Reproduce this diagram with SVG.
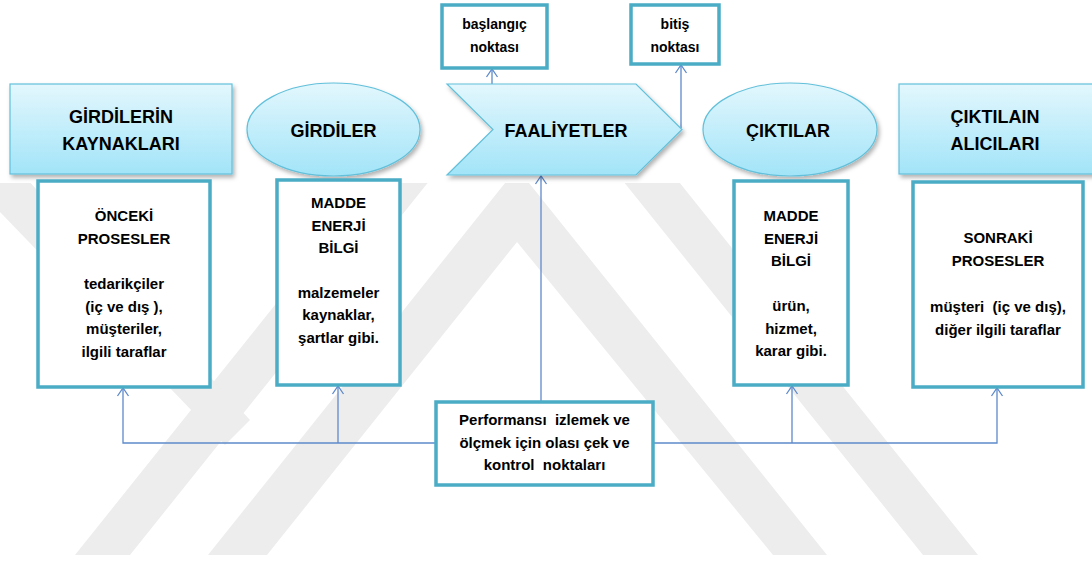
<svg xmlns="http://www.w3.org/2000/svg" width="1092" height="561" viewBox="0 0 1092 561">
  <style>
    .hdr { font-family: "Liberation Sans", Arial, sans-serif; font-weight: bold; font-size: 18px; text-anchor: middle; fill: #000; }
    .txt { font-family: "Liberation Sans", Arial, sans-serif; font-weight: bold; font-size: 15px; text-anchor: middle; fill: #000; white-space: pre; }
    .small { font-family: "Liberation Sans", Arial, sans-serif; font-weight: bold; font-size: 14px; text-anchor: middle; fill: #000; }
    .head-shape { fill: url(#blueFill); stroke: #62C0DA; stroke-width: 1.2; filter: url(#shadow); }
    .box { fill: #fff; stroke: #4BACC6; stroke-width: 3.5; }
    .conn { fill: none; stroke: #5E8ACB; stroke-width: 1.3; }
    .wm { fill: #ededed; }
  </style>
  <defs>
    <linearGradient id="blueFill" x1="0" y1="0" x2="0" y2="1">
      <stop offset="0" stop-color="#E3F7FD"/>
      <stop offset="1" stop-color="#A2E4F8"/>
    </linearGradient>
    <filter id="shadow" x="-10%" y="-10%" width="130%" height="140%">
      <feDropShadow dx="2" dy="3" stdDeviation="2" flood-color="#000" flood-opacity="0.3"/>
    </filter>
    <clipPath id="wmArea">
      <rect x="0" y="183" width="1092" height="372"/>
    </clipPath>
    <marker id="openArrow" markerUnits="userSpaceOnUse" viewBox="-10 -8 12 16" refX="0" refY="0" markerWidth="12" markerHeight="16" orient="auto">
      <path d="M-8,-5.5 L0,0 L-8,5.5" fill="none" stroke="#5E8ACB" stroke-width="1.3"/>
    </marker>
  </defs>

  <rect width="1092" height="561" fill="#fff"/>

  <!-- background watermark bands -->
  <g id="watermark" clip-path="url(#wmArea)">
    <polygon class="wm" points="75,555 526,-9 978,555 923,555 526,60 130,555"/>
    <polygon class="wm" points="208,555 517,168 827,555 773,555 517,242 267,555"/>
    <polygon class="wm" points="-60,150 0,150 250,420 225,445"/>
  </g>

  <!-- connectors -->
  <g id="connectors">
    <line class="conn" x1="492" y1="128" x2="492" y2="69" marker-end="url(#openArrow)"/>
    <line class="conn" x1="681" y1="128" x2="681" y2="65" marker-end="url(#openArrow)"/>
    <line class="conn" x1="541" y1="402" x2="541" y2="176" marker-end="url(#openArrow)"/>
    <polyline class="conn" points="436,443 123,443 123,388" marker-end="url(#openArrow)"/>
    <line class="conn" x1="338" y1="443" x2="338" y2="386" marker-end="url(#openArrow)"/>
    <polyline class="conn" points="653,443 997,443 997,388" marker-end="url(#openArrow)"/>
    <line class="conn" x1="792" y1="443" x2="792" y2="386" marker-end="url(#openArrow)"/>
  </g>

  <!-- top row -->
  <g id="girdilerin-kaynaklari">
    <rect class="head-shape" x="10" y="84" width="222" height="90"/>
    <text class="hdr" x="121" y="123">GİRDİLERİN</text>
    <text class="hdr" x="121" y="150">KAYNAKLARI</text>
  </g>
  <g id="girdiler">
    <ellipse class="head-shape" cx="333.5" cy="129.5" rx="86.5" ry="46.5"/>
    <text class="hdr" x="333.5" y="137">GİRDİLER</text>
  </g>
  <g id="faaliyetler">
    <polygon class="head-shape" points="447,84 636,84 682,129.5 636,175 447,175 493,129.5"/>
    <text class="hdr" x="566" y="137">FAALİYETLER</text>
  </g>
  <g id="ciktilar">
    <ellipse class="head-shape" cx="790" cy="129.5" rx="87" ry="46.5"/>
    <text class="hdr" x="788" y="137">ÇIKTILAR</text>
  </g>
  <g id="ciktilain-alicilari">
    <rect class="head-shape" x="899" y="84" width="196" height="90"/>
    <text class="hdr" x="995" y="123">ÇIKTILAIN</text>
    <text class="hdr" x="995" y="150">ALICILARI</text>
  </g>

  <!-- start / end points -->
  <g id="baslangic-noktasi">
    <rect class="box" x="442" y="5" width="105" height="63"/>
    <text class="small" x="494.5" y="29">başlangıç</text>
    <text class="small" x="494.5" y="52">noktası</text>
  </g>
  <g id="bitis-noktasi">
    <rect class="box" x="631" y="5" width="88" height="59"/>
    <text class="small" x="675" y="29">bitiş</text>
    <text class="small" x="675" y="52">noktası</text>
  </g>

  <!-- detail boxes -->
  <g id="onceki-prosesler">
    <rect class="box" x="38" y="181" width="172" height="206"/>
    <text class="txt" x="124" y="221">ÖNCEKİ</text>
    <text class="txt" x="124" y="243.5">PROSESLER</text>
    <text class="txt" x="124" y="289">tedarikçiler</text>
    <text class="txt" x="124" y="311.5">(iç ve dış ),</text>
    <text class="txt" x="124" y="334">müşteriler,</text>
    <text class="txt" x="124" y="356.5">ilgili taraflar</text>
  </g>
  <g id="girdi-icerik">
    <rect class="box" x="277" y="180" width="123" height="205"/>
    <text class="txt" x="338.5" y="208">MADDE</text>
    <text class="txt" x="338.5" y="231">ENERJİ</text>
    <text class="txt" x="338.5" y="253">BİLGİ</text>
    <text class="txt" x="338.5" y="298">malzemeler</text>
    <text class="txt" x="338.5" y="320">kaynaklar,</text>
    <text class="txt" x="338.5" y="343">şartlar gibi.</text>
  </g>
  <g id="cikti-icerik">
    <rect class="box" x="734" y="181" width="114" height="204"/>
    <text class="txt" x="791" y="221">MADDE</text>
    <text class="txt" x="791" y="243.5">ENERJİ</text>
    <text class="txt" x="791" y="266">BİLGİ</text>
    <text class="txt" x="791" y="311">ürün,</text>
    <text class="txt" x="791" y="333.5">hizmet,</text>
    <text class="txt" x="791" y="356">karar gibi.</text>
  </g>
  <g id="sonraki-prosesler">
    <rect class="box" x="913" y="182" width="170" height="205"/>
    <text class="txt" x="998" y="243">SONRAKİ</text>
    <text class="txt" x="998" y="266">PROSESLER</text>
    <text class="txt" x="998" y="312">müşteri  (iç ve dış),</text>
    <text class="txt" x="998" y="335">diğer ilgili taraflar</text>
  </g>

  <!-- monitoring points -->
  <g id="kontrol-noktalari">
    <rect class="box" x="436" y="402" width="217" height="83"/>
    <text class="txt" x="544.5" y="425">Performansı  izlemek ve</text>
    <text class="txt" x="544.5" y="448">ölçmek için olası çek ve</text>
    <text class="txt" x="544.5" y="470">kontrol  noktaları</text>
  </g>
</svg>
